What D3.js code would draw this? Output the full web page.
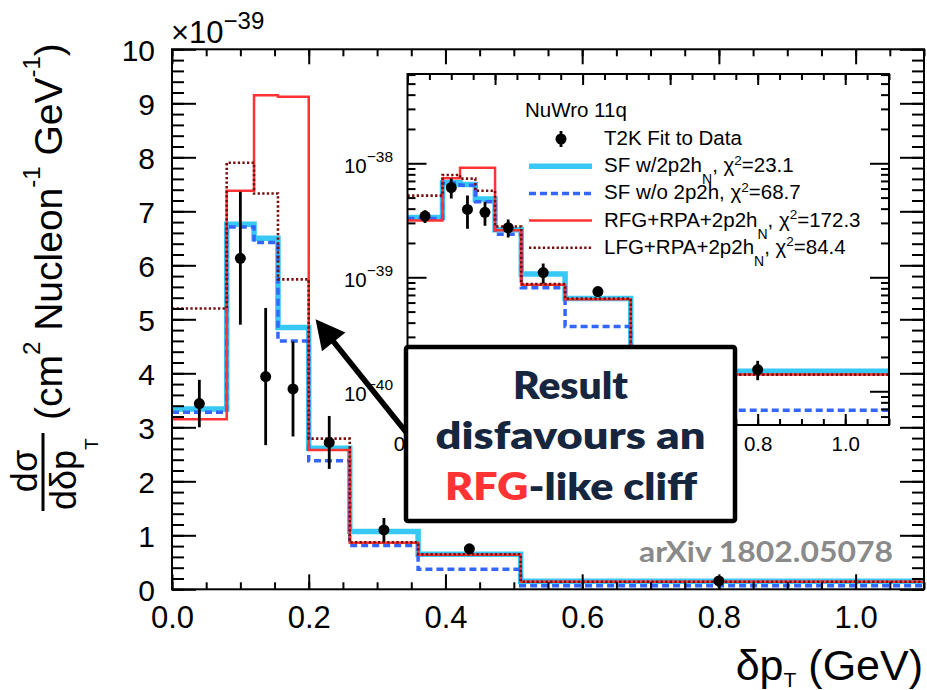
<!DOCTYPE html>
<html><head><meta charset="utf-8">
<script src="https://cdn.jsdelivr.net/npm/d3@7/dist/d3.min.js"></script>
<style>
html,body{margin:0;padding:0;background:#fff;overflow:hidden}
svg{display:block}
</style></head><body>
<svg id="chart" width="927" height="690"></svg>
<script>
// ---- data (cross-section in units of 1e-39 cm^2 / nucleon / GeV) ----
const binEdges      = [0, 0.08, 0.12, 0.155, 0.2, 0.26, 0.36, 0.51, 1.1];
const sfWith2p2h    = [3.34, 6.76, 6.50, 4.85, 2.61, 1.07, 0.65, 0.150];
const sfWithout2p2h = [3.28, 6.71, 6.42, 4.60, 2.38, 0.81, 0.37, 0.068];
const rfgRpa2p2h    = [3.15, 7.38, 9.15, 9.12, 2.58, 0.86, 0.64, 0.140];
const lfgRpa2p2h    = [5.20, 7.90, 7.33, 5.74, 2.79, 0.87, 0.65, 0.140];
const dataX   = [0.040, 0.100, 0.137, 0.177, 0.230, 0.310, 0.435, 0.800];
const dataY   = [3.44, 6.13, 3.94, 3.71, 2.72, 1.10, 0.75, 0.155];
const dataErr = [0.44, 1.23, 1.27, 0.88, 0.49, 0.22, 0.07, 0.03];
const seriesLabels = ["SF w/2p2h", "SF w/o 2p2h", "RFG+RPA+2p2h", "LFG+RPA+2p2h"];
const seriesSubs   = ["N", "", "N", "N"];
const chi2Values   = ["23.1", "68.7", "172.3", "84.4"];
const mainXTicks  = [0, 0.2, 0.4, 0.6, 0.8, 1.0];
const mainYTicks  = [0, 1, 2, 3, 4, 5, 6, 7, 8, 9, 10];
const insetXTicks = [0, 0.2, 0.4, 0.6, 0.8, 1.0];
const insetYTicks = [0.1, 1, 10];
const arrowTip = [0.21, 5.0];   // data coords pointed at by the annotation arrow

// ---- styling ----
const FONT = '"Liberation Sans", Arial, Helvetica, sans-serif';
const GFONT = 'Lato, "Open Sans", "DejaVu Sans", sans-serif';
const seriesValues = [sfWith2p2h, sfWithout2p2h, rfgRpa2p2h, lfgRpa2p2h];
const styles = [
  {color: "#38c8f6", width: 5.5, dash: null},
  {color: "#3366ff", width: 3.5, dash: "7,4"},
  {color: "#ff3333", width: 2.5, dash: null},
  {color: "#7a0c0c", width: 2.6, dash: "2.3,2.3"}
];

const svg = d3.select("#chart");
svg.append("rect").attr("width", 927).attr("height", 690).attr("fill", "#fff");

function rich(sel, parts) {
  let cur = 0;
  parts.forEach(p => {
    const t = sel.append("tspan").text(p.t);
    const shift = p.dy || 0;
    if (shift - cur) t.attr("dy", shift - cur);
    cur = shift;
    if (p.fs) t.attr("font-size", p.fs);
    if (p.fill) t.attr("fill", p.fill);
  });
}
function stepPath(xs, ys, vals) {
  const pts = vals.map((v, i) => [binEdges[i], v]);
  pts.push([binEdges[binEdges.length - 1], vals[vals.length - 1]]);
  return d3.line().x(d => xs(d[0])).y(d => ys(d[1])).curve(d3.curveStepAfter)(pts);
}
function styleAxis(g) {
  g.select(".domain").remove();
  g.selectAll(".tick line").attr("stroke", "#000").attr("stroke-width", 2);
  g.attr("font-family", FONT).attr("fill", "#000");
  g.selectAll(".tick text").attr("fill", "#000");
}
function drawHists(g, xs, ys) {
  seriesValues.forEach((vals, i) => {
    const s = styles[i];
    g.append("path").attr("d", stepPath(xs, ys, vals))
      .attr("fill", "none").attr("stroke", s.color).attr("stroke-width", s.width)
      .attr("stroke-dasharray", s.dash).attr("stroke-linejoin", "miter");
  });
}
function drawData(g, xs, ys) {
  dataX.forEach((xv, i) => {
    g.append("line").attr("x1", xs(xv)).attr("x2", xs(xv))
      .attr("y1", ys(dataY[i] + dataErr[i])).attr("y2", ys(dataY[i] - dataErr[i]))
      .attr("stroke", "#000").attr("stroke-width", 2.8);
    g.append("circle").attr("cx", xs(xv)).attr("cy", ys(dataY[i])).attr("r", 5.5).attr("fill", "#000");
  });
}

// ================= MAIN PLOT =================
const x = d3.scaleLinear().domain([0, 1.1]).range([172, 924]);
const y = d3.scaleLinear().domain([0, 10]).range([589.3, 49.3]);

svg.append("clipPath").attr("id", "mainClip").append("rect")
  .attr("x", 172).attr("y", 49.3).attr("width", 752).attr("height", 540);
const mg = svg.append("g").attr("clip-path", "url(#mainClip)");
drawHists(mg, x, y);
drawData(mg, x, y);

const xMinor = d3.range(0, 1.1001, 0.05);
const yMinor = d3.range(0, 10.001, 0.2);
// bottom
svg.append("g").attr("transform", "translate(0,589.3)")
  .call(d3.axisBottom(x).tickValues(xMinor).tickSize(-7).tickFormat("")).call(styleAxis);
svg.append("g").attr("transform", "translate(0,589.3)")
  .call(d3.axisBottom(x).tickValues(mainXTicks).tickSize(-15).tickPadding(17).tickFormat(d3.format(".1f")))
  .call(styleAxis).attr("font-size", 31);
// top
svg.append("g").attr("transform", "translate(0,49.3)")
  .call(d3.axisTop(x).tickValues(xMinor).tickSize(-7).tickFormat("")).call(styleAxis);
svg.append("g").attr("transform", "translate(0,49.3)")
  .call(d3.axisTop(x).tickValues(mainXTicks).tickSize(-15).tickFormat("")).call(styleAxis);
// left
svg.append("g").attr("transform", "translate(172,0)")
  .call(d3.axisLeft(y).tickValues(yMinor).tickSize(-12).tickFormat("")).call(styleAxis);
const yAx = svg.append("g").attr("transform", "translate(172,0)")
  .call(d3.axisLeft(y).tickValues(mainYTicks).tickSize(-24).tickPadding(17).tickFormat(d3.format("d")))
  .call(styleAxis).attr("font-size", 30);
yAx.selectAll(".tick text").attr("dy", "0.36em");
// right
svg.append("g").attr("transform", "translate(924,0)")
  .call(d3.axisRight(y).tickValues(yMinor).tickSize(-12).tickFormat("")).call(styleAxis);
svg.append("g").attr("transform", "translate(924,0)")
  .call(d3.axisRight(y).tickValues(mainYTicks).tickSize(-24).tickFormat("")).call(styleAxis);
// frame
svg.append("rect").attr("x", 172).attr("y", 49.3).attr("width", 752).attr("height", 540)
  .attr("fill", "none").attr("stroke", "#000").attr("stroke-width", 2);

// x10^-39
const expT = svg.append("text").attr("x", 171).attr("y", 43.3).attr("font-family", FONT)
  .attr("font-size", 31).attr("fill", "#000");
rich(expT, [{t: "×10"}, {t: "−39", fs: 24, dy: -14}]);

// y title
const yt = svg.append("g").attr("transform", "rotate(-90)").attr("font-family", FONT).attr("fill", "#000");
yt.append("text").attr("x", -471).attr("y", 37).attr("text-anchor", "middle").attr("font-size", 36).text("dσ");
yt.append("line").attr("x1", -433).attr("x2", -511).attr("y1", 43).attr("y2", 43)
  .attr("stroke", "#000").attr("stroke-width", 3);
const den = yt.append("text").attr("x", -510).attr("y", 76).attr("font-size", 36);
rich(den, [{t: "dδp"}, {t: "T", fs: 19, dy: 22}]);
const ut = yt.append("text").attr("x", -420).attr("y", 62).attr("font-size", 39);
rich(ut, [{t: "(cm"}, {t: "2", fs: 24, dy: -22}, {t: " Nucleon"}, {t: "-1", fs: 24, dy: -22},
          {t: " GeV"}, {t: "-1", fs: 24, dy: -22}, {t: ")"}]);

// x title
const xt = svg.append("text").attr("x", 923).attr("y", 680).attr("text-anchor", "end")
  .attr("font-family", FONT).attr("font-size", 43).attr("fill", "#000");
rich(xt, [{t: "δp"}, {t: "T", fs: 21, dy: 7}, {t: " (GeV)"}]);

// ================= INSET =================
const xi = d3.scaleLinear().domain([0, 1.1]).range([407.5, 889]);
const yi = d3.scaleLog().domain([0.0506, 60.7]).range([425, 74]);
svg.append("rect").attr("x", 407.5).attr("y", 74).attr("width", 481.5).attr("height", 351).attr("fill", "#fff");
svg.append("clipPath").attr("id", "insetClip").append("rect")
  .attr("x", 407.5).attr("y", 74).attr("width", 481.5).attr("height", 351);
const ig = svg.append("g").attr("clip-path", "url(#insetClip)");
drawHists(ig, xi, yi);
drawData(ig, xi, yi);

// annotation box geometry (needed to know which inset labels it hides)
const box = {x: 406, y: 347, w: 329, h: 174};

const logMinor = [];
[0.01, 0.1, 1, 10].forEach(d => { for (let m = 2; m <= 9; m++) { const v = m * d; if (v >= 0.0506 && v <= 60.7) logMinor.push(v); } });
const xiMinor = d3.range(0, 1.1001, 0.05);
// only labels that are not completely hidden behind the annotation box
const insetXLabelTicks = insetXTicks.filter(v => xi(v) < box.x + 5 || xi(v) > box.x + box.w + 15);
svg.append("g").attr("transform", "translate(0,425)")
  .call(d3.axisBottom(xi).tickValues(xiMinor).tickSize(-6).tickFormat("")).call(styleAxis);
svg.append("g").attr("transform", "translate(0,425)")
  .call(d3.axisBottom(xi).tickValues(insetXTicks).tickSize(-11).tickFormat("")).call(styleAxis);
svg.append("g").attr("transform", "translate(0,425)")
  .call(d3.axisBottom(xi).tickValues(insetXLabelTicks).tickSize(0).tickPadding(11).tickFormat(d3.format(".1f")))
  .call(styleAxis).attr("font-size", 20.5);
svg.append("g").attr("transform", "translate(0,74)")
  .call(d3.axisTop(xi).tickValues(xiMinor).tickSize(-6).tickFormat("")).call(styleAxis);
svg.append("g").attr("transform", "translate(0,74)")
  .call(d3.axisTop(xi).tickValues(insetXTicks).tickSize(-11).tickFormat("")).call(styleAxis);
svg.append("g").attr("transform", "translate(407.5,0)")
  .call(d3.axisLeft(yi).tickValues(logMinor).tickSize(-8).tickFormat("")).call(styleAxis);
svg.append("g").attr("transform", "translate(407.5,0)")
  .call(d3.axisLeft(yi).tickValues(insetYTicks).tickSize(-19).tickFormat("")).call(styleAxis);
svg.append("g").attr("transform", "translate(889,0)")
  .call(d3.axisRight(yi).tickValues(logMinor).tickSize(-8).tickFormat("")).call(styleAxis);
svg.append("g").attr("transform", "translate(889,0)")
  .call(d3.axisRight(yi).tickValues(insetYTicks).tickSize(-19).tickFormat("")).call(styleAxis);
insetYTicks.forEach(v => {
  const t = svg.append("text").attr("x", 393).attr("y", yi(v) + 10).attr("text-anchor", "end")
    .attr("font-family", FONT).attr("font-size", 20.5).attr("fill", "#000");
  rich(t, [{t: "10"}, {t: "−" + (39 - Math.round(Math.log10(v))), fs: 15.5, dy: -11.5}]);
});
svg.append("rect").attr("x", 407.5).attr("y", 74).attr("width", 481.5).attr("height", 351)
  .attr("fill", "none").attr("stroke", "#000").attr("stroke-width", 2);

// legend
const lg = svg.append("g").attr("font-family", FONT).attr("fill", "#000");
lg.append("text").attr("x", 525).attr("y", 117).attr("font-size", 20.5).text("NuWro 11q");
const rowY = [139, 166.2, 193.4, 220.6, 247.8];
const lx0 = 529, lx1 = 592, ltx = 604;
lg.append("line").attr("x1", 561).attr("x2", 561).attr("y1", rowY[0] - 8).attr("y2", rowY[0] + 8)
  .attr("stroke", "#000").attr("stroke-width", 2.8);
lg.append("circle").attr("cx", 561).attr("cy", rowY[0]).attr("r", 5.5).attr("fill", "#000");
lg.append("text").attr("x", ltx).attr("y", rowY[0] + 6).attr("font-size", 20.5).text("T2K Fit to Data");
seriesLabels.forEach((lab, i) => {
  const s = styles[i], yy = rowY[i + 1];
  lg.append("line").attr("x1", lx0).attr("x2", lx1).attr("y1", yy).attr("y2", yy)
    .attr("stroke", s.color).attr("stroke-width", s.width).attr("stroke-dasharray", s.dash);
  const t = lg.append("text").attr("x", ltx).attr("y", yy + 6).attr("font-size", 20.5);
  const parts = [{t: lab}];
  if (seriesSubs[i]) parts.push({t: seriesSubs[i], fs: 14, dy: 12});
  parts.push({t: ", χ"}, {t: "2", fs: 13.5, dy: -7.5}, {t: "=" + chi2Values[i]});
  rich(t, parts);
});

// watermark
svg.append("text").attr("x", 893).attr("y", 562).attr("text-anchor", "end")
  .attr("font-family", GFONT).attr("font-weight", 700).attr("font-size", 29)
  .attr("fill", "#8a8a8a").attr("textLength", 254).attr("lengthAdjust", "spacingAndGlyphs")
  .text("arXiv 1802.05078");

// ================= ANNOTATION =================
const tail = [box.x, 432];
const tip = [x(arrowTip[0]), y(arrowTip[1])];
const dx = tip[0] - tail[0], dyv = tip[1] - tail[1], L = Math.hypot(dx, dyv);
const ux = dx / L, uy = dyv / L, px = -uy, py = ux;
const headL = 29, headW = 15;
const bx = tip[0] - ux * headL, by = tip[1] - uy * headL;
svg.append("line").attr("x1", tail[0]).attr("y1", tail[1])
  .attr("x2", tip[0] - ux * (headL - 4)).attr("y2", tip[1] - uy * (headL - 4))
  .attr("stroke", "#000").attr("stroke-width", 5.5);
svg.append("polygon").attr("fill", "#000")
  .attr("points", [[tip[0], tip[1]], [bx + px * headW, by + py * headW], [bx - px * headW, by - py * headW]].map(p => p.join(",")).join(" "));
svg.append("rect").attr("x", box.x).attr("y", box.y).attr("width", box.w).attr("height", box.h)
  .attr("rx", 2).attr("fill", "#fff").attr("stroke", "#000").attr("stroke-width", 4.5);
const navy = "#16263f";
const at = svg.append("g").attr("font-family", GFONT).attr("font-weight", 800).attr("font-size", 38)
  .attr("text-anchor", "middle").attr("fill", navy);
at.append("text").attr("x", 570.5).attr("y", 399).attr("textLength", 115).attr("lengthAdjust", "spacingAndGlyphs").text("Result");
at.append("text").attr("x", 570.5).attr("y", 449).attr("textLength", 270).attr("lengthAdjust", "spacingAndGlyphs").text("disfavours an");
const l3 = at.append("text").attr("x", 571).attr("y", 500).attr("textLength", 252).attr("lengthAdjust", "spacingAndGlyphs");
rich(l3, [{t: "RFG", fill: "#ff3333"}, {t: "-like cliff"}]);
</script>
</body></html>
